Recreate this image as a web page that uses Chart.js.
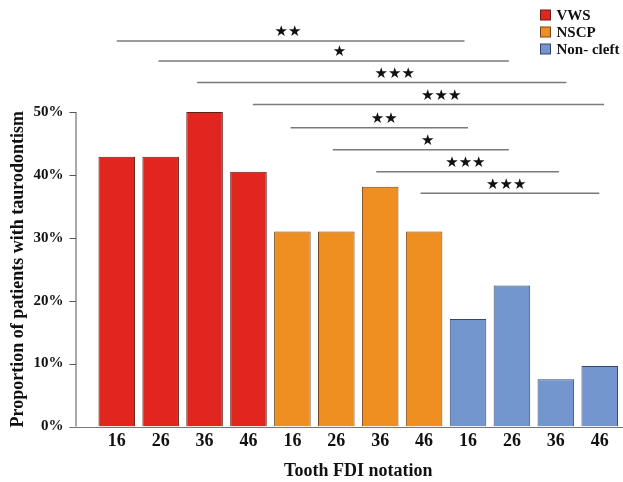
<!DOCTYPE html>
<html>
<head>
<meta charset="utf-8">
<script src="https://cdn.jsdelivr.net/npm/chart.js@4.4.1/dist/chart.umd.min.js"></script>
<style>
  html, body { margin: 0; padding: 0; background: #ffffff; }
  #wrap { width: 623px; height: 482px; position: relative; }
</style>
</head>
<body>
<div id="wrap"><canvas id="c"></canvas></div>
<script>
// ---- data ----
const teeth = ['16', '26', '36', '46'];
const groupNames = ['VWS', 'NSCP', 'Non- cleft'];
const vws = [42.9, 42.9, 50.0, 40.5];
const nscp = [31.0, 31.0, 38.1, 31.0];
const nonCleft = [17.1, 22.4, 7.5, 9.6];
const yTicks = [0, 10, 20, 30, 40, 50];

// significance brackets (category positions, level in %, stars)
const bracketStart = [0.0, 0.95, 1.83, 3.1, 3.96, 4.92, 5.91, 6.92];
const bracketEnd   = [7.92, 8.93, 10.24, 11.1, 8.0, 8.93, 10.07, 10.99];
const bracketLevel = [61.3, 58.1, 54.7, 51.2, 47.5, 44.0, 40.5, 37.1];
const bracketStarAt = [3.9, 5.07, 6.33, 7.39, 6.09, 7.08, 7.94, 8.87];
const bracketStars = ['★★', '★', '★★★', '★★★', '★★', '★', '★★★', '★★★'];

const colors = ['#E1261F', '#EF8F21', '#7396CE'];
const borders = ['#6a1d18', '#70461a', '#34466e'];

const labels = [...teeth, ...teeth, ...teeth];
const pad = (arr, g) => labels.map((_, i) => (Math.floor(i / 4) === g ? arr[i % 4] : null));
const series = [vws, nscp, nonCleft];

const serif = "'Liberation Serif', 'Times New Roman', serif";

const overlay = {
  id: 'overlay',
  afterDraw(chart) {
    const ctx = chart.ctx;
    const x = chart.scales.x, y = chart.scales.y;
    ctx.save();
    // y axis line (0..50) and ticks
    const ax = 76;
    ctx.strokeStyle = '#555';
    ctx.lineWidth = 1;
    ctx.beginPath();
    ctx.moveTo(ax, y.getPixelForValue(0));
    ctx.lineTo(ax, y.getPixelForValue(50));
    yTicks.forEach(v => {
      const py = Math.round(y.getPixelForValue(v)) + 0.5;
      ctx.moveTo(69.5, py);
      ctx.lineTo(ax, py);
    });
    ctx.stroke();
    // baseline
    ctx.strokeStyle = '#777';
    ctx.beginPath();
    const by = Math.round(y.getPixelForValue(0)) + 0.5;
    ctx.moveTo(69.5, by);
    ctx.lineTo(623, by);
    ctx.stroke();
    // brackets
    ctx.strokeStyle = '#7a7a7a';
    ctx.lineWidth = 1.5;
    ctx.fillStyle = '#111';
    ctx.font = "15px 'DejaVu Sans'";
    ctx.textAlign = 'center';
    ctx.textBaseline = 'middle';
    bracketLevel.forEach((lv, i) => {
      const py = y.getPixelForValue(lv);
      ctx.beginPath();
      ctx.moveTo(x.getPixelForValue(bracketStart[i]), py);
      ctx.lineTo(x.getPixelForValue(bracketEnd[i]), py);
      ctx.stroke();
      ctx.fillText(bracketStars[i], x.getPixelForValue(bracketStarAt[i]), py - 8.5);
    });
    // legend
    ctx.font = 'bold 15px ' + serif;
    ctx.textAlign = 'left';
    chart.data.datasets.forEach((ds, i) => {
      const cy = 15 + i * 17;
      ctx.fillStyle = ds.backgroundColor;
      ctx.fillRect(540.5, cy - 5, 10, 10);
      ctx.strokeStyle = ds.borderColor;
      ctx.lineWidth = 1;
      ctx.strokeRect(540.5, cy - 5, 10, 10);
      ctx.fillStyle = '#111';
      ctx.fillText(ds.label, 556.5, cy + 1);
    });
    ctx.restore();
  }
};

new Chart(document.getElementById('c'), {
  type: 'bar',
  data: {
    labels: labels,
    datasets: series.map((s, g) => ({
      label: groupNames[g],
      data: pad(s, g),
      backgroundColor: colors[g],
      borderColor: borders[g],
      borderWidth: 1,
      grouped: false,
      barPercentage: 0.833,
      categoryPercentage: 1.0
    }))
  },
  options: {
    responsive: true,
    maintainAspectRatio: false,
    animation: false,
    layout: { padding: { top: 112, right: 1.3, left: 0, bottom: 0 } },
    plugins: { legend: { display: false }, tooltip: { enabled: false } },
    scales: {
      x: {
        grid: { display: false, drawTicks: false },
        border: { display: false },
        ticks: { color: '#111', font: { family: serif, size: 18, weight: 'bold' }, padding: 4, maxRotation: 0, autoSkip: false },
        title: { display: true, text: 'Tooth FDI notation', color: '#111', font: { family: serif, size: 18, weight: 'bold' }, padding: { top: 2, bottom: 0 } },
        afterFit(scale) { scale.height = 55.5; }
      },
      y: {
        min: 0, max: 50,
        grid: { display: false, drawTicks: false },
        border: { display: false },
        ticks: { stepSize: 10, color: '#111', font: { family: serif, size: 15, weight: 'bold' }, padding: 31.3, callback: v => v + '%' },
        title: { display: true, text: 'Proportion of patients with taurodontism', color: '#111', font: { family: serif, size: 18, weight: 'bold' }, padding: { top: 8, bottom: 0 } },
        afterFit(scale) { scale.width = 94.8; }
      }
    }
  },
  plugins: [overlay]
});
</script>
</body>
</html>
